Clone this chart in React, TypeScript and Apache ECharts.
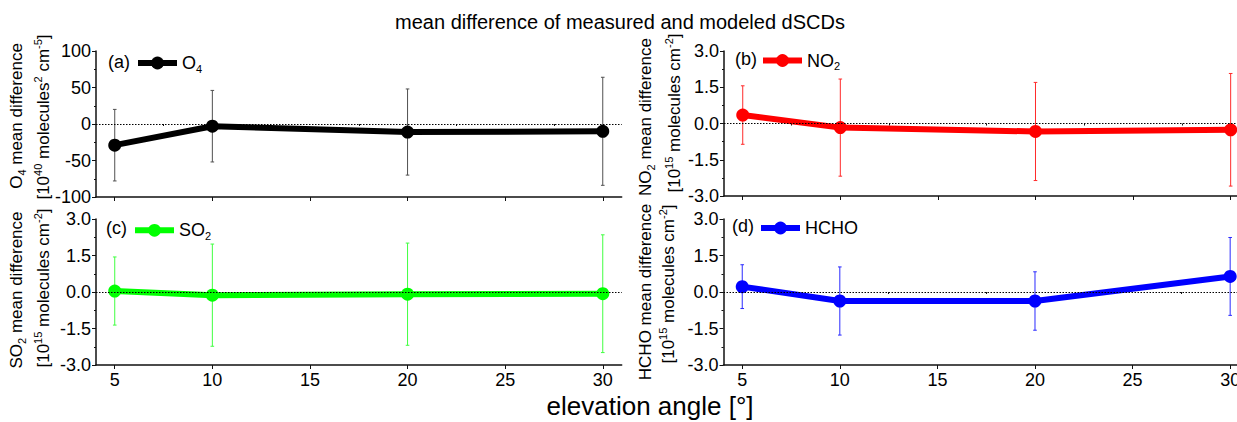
import React, { useEffect, useRef } from "react";
import * as echarts from "echarts";

const angles = [5, 10, 20, 30];
const o4Mean = [-29, -3, -11, -10];
const o4Err = [49, 49, 59, 74];
const no2Mean = [0.35, -0.17, -0.33, -0.26];
const no2Err = [1.21, 2.01, 2.03, 2.33];
const so2Mean = [0.04, -0.13, -0.09, -0.07];
const so2Err = [1.4, 2.1, 2.1, 2.42];
const hchoMean = [0.22, -0.37, -0.37, 0.64];
const hchoErr = [0.9, 1.4, 1.2, 1.6];
const xMajorTicks = [5, 10, 15, 20, 25, 30];
const xMinorTicks = [7.5, 12.5, 17.5, 22.5, 27.5];

const FONT = "'Liberation Sans', Arial, sans-serif";

const panels = [
  { name: "O4", label: "O{sub|4}", tag: "(a)", mean: o4Mean, err: o4Err, color: "#000000", errColor: "#505050", min: -100, max: 100, interval: 50, digits: 0,
    grid: { left: 96, top: 51, width: 525.7, height: 146 }, legend: { left: 135, cy: 60 }, tagPos: [108, 61.5], showX: false,
    t1: "O{sub|4} mean difference", t2: "[10{sup|40} molecules{sup|2} cm{sup|-5}]", t1Pos: [16, 116], t2Pos: [43, 117] },
  { name: "NO2", label: "NO{sub|2}", tag: "(b)", mean: no2Mean, err: no2Err, color: "#ff0000", errColor: "#ff2a2a", min: -3, max: 3, interval: 1.5, digits: 1,
    grid: { left: 724, top: 51, width: 525.6, height: 145 }, legend: { left: 760, cy: 57.5 }, tagPos: [735, 59], showX: false,
    t1: "NO{sub|2} mean difference", t2: "[10{sup|15} molecules cm{sup|-2}]", t1Pos: [645, 117], t2Pos: [674, 113] },
  { name: "SO2", label: "SO{sub|2}", tag: "(c)", mean: so2Mean, err: so2Err, color: "#00ff00", errColor: "#40ff40", min: -3, max: 3, interval: 1.5, digits: 1,
    grid: { left: 96, top: 219, width: 525.7, height: 146 }, legend: { left: 132, cy: 227.3 }, tagPos: [106, 228], showX: true,
    t1: "SO{sub|2} mean difference", t2: "[10{sup|15} molecules cm{sup|-2}]", t1Pos: [16, 290], t2Pos: [43, 288] },
  { name: "HCHO", label: "HCHO", tag: "(d)", mean: hchoMean, err: hchoErr, color: "#0000ff", errColor: "#2a2aff", min: -3, max: 3, interval: 1.5, digits: 1,
    grid: { left: 723.5, top: 219, width: 525.6, height: 146 }, legend: { left: 758, cy: 225 }, tagPos: [732, 225.5], showX: true,
    t1: "HCHO mean difference", t2: "[10{sup|15} molecules cm{sup|-2}]", t1Pos: [645, 292], t2Pos: [668, 284] },
];

const richText = {
  sub: { fontSize: 11, fontFamily: FONT, verticalAlign: "bottom", lineHeight: 12, fill: "#000", color: "#000" },
  sup: { fontSize: 11, fontFamily: FONT, verticalAlign: "top", lineHeight: 12, fill: "#000", color: "#000" },
};

export default function App() {
  const ref = useRef<HTMLDivElement>(null);
  useEffect(() => {
    if (!ref.current) return;
    const chart = echarts.init(ref.current, undefined, { renderer: "svg" });
    const xMin = 4.04;
    const xMax = 30.97;
    const xAxes: any[] = [];
    const yAxes: any[] = [];
    const series: any[] = [];
    const legends: any[] = [];
    const graphics: any[] = [];
    panels.forEach((p, i) => {
      xAxes.push({
        type: "value", gridIndex: i, min: xMin, max: xMax, position: "bottom",
        axisLine: { show: true, onZero: false, lineStyle: { color: "#111", width: 1.5 } },
        axisTick: { show: true, customValues: xMajorTicks, length: 4, lineStyle: { color: "#111", width: 1 } },
        axisLabel: { show: p.showX, customValues: xMajorTicks, fontSize: 18, color: "#000", fontFamily: FONT, margin: 6, hideOverlap: false },
        splitLine: { show: false },
      });
      xAxes.push({
        type: "value", gridIndex: i, min: xMin, max: xMax, position: "bottom",
        axisLine: { show: false },
        axisTick: { show: true, customValues: xMinorTicks, length: 2, lineStyle: { color: "#111", width: 1 } },
        axisLabel: { show: false },
        splitLine: { show: false },
      });
      yAxes.push({
        type: "value", gridIndex: i, min: p.min, max: p.max, interval: p.interval,
        axisLine: { show: true, onZero: false, lineStyle: { color: "#111", width: 1.5 } },
        axisTick: { show: true, length: 4, lineStyle: { color: "#111", width: 1 } },
        minorTick: { show: true, splitNumber: 2, length: 2, lineStyle: { color: "#111", width: 1 } },
        axisLabel: { fontSize: 18, color: "#000", fontFamily: FONT, margin: 5, formatter: (v: number) => v.toFixed(p.digits) },
        splitLine: { show: false },
        minorSplitLine: { show: false },
      });
      series.push({
        type: "custom", name: p.name + " error", xAxisIndex: 2 * i, yAxisIndex: i, z: 2,
        data: angles.map((a, k) => [a, p.mean[k] - p.err[k], p.mean[k] + p.err[k]]),
        encode: { x: 0, y: [1, 2] },
        renderItem: (params: any, api: any) => {
          const x = api.value(0);
          const lo = api.coord([x, api.value(1)]);
          const hi = api.coord([x, api.value(2)]);
          const w = 1.8;
          const st = { stroke: p.errColor, lineWidth: 1 };
          return {
            type: "group",
            children: [
              { type: "line", shape: { x1: hi[0], y1: hi[1], x2: lo[0], y2: lo[1] }, style: st },
              { type: "line", shape: { x1: hi[0] - w, y1: hi[1], x2: hi[0] + w, y2: hi[1] }, style: st },
              { type: "line", shape: { x1: lo[0] - w, y1: lo[1], x2: lo[0] + w, y2: lo[1] }, style: st },
            ],
          };
        },
      });
      series.push({
        type: "line", name: p.name, xAxisIndex: 2 * i, yAxisIndex: i, z: 3,
        data: angles.map((a, k) => [a, p.mean[k]]),
        symbol: "circle", symbolSize: 13,
        lineStyle: { width: 6, color: p.color },
        itemStyle: { color: p.color },
        markLine: {
          silent: true, symbol: ["none", "none"], label: { show: false },
          lineStyle: { type: [1.5, 1.5], color: "#000", width: 1 },
          data: [{ yAxis: 0 }],
        },
      });
      legends.push({
        left: p.legend.left, top: p.legend.cy - 8, padding: 0, data: [p.name],
        itemWidth: 39, itemHeight: 16, itemGap: 0,
        lineStyle: { width: 6 },
        formatter: () => p.label,
        textStyle: { fontSize: 18, lineHeight: 22, color: "#000", fontFamily: FONT, rich: richText },
      });
      graphics.push({
        type: "text", x: p.tagPos[0], y: p.tagPos[1],
        style: { text: p.tag, fontSize: 18, fontFamily: FONT, fill: "#000", align: "left", verticalAlign: "middle" },
      });
      graphics.push({
        type: "text", x: p.t1Pos[0], y: p.t1Pos[1], rotation: Math.PI / 2,
        style: { text: p.t1, fontSize: 17, lineHeight: 22, fontFamily: FONT, fill: "#000", align: "center", verticalAlign: "middle", rich: richText },
      });
      graphics.push({
        type: "text", x: p.t2Pos[0], y: p.t2Pos[1], rotation: Math.PI / 2,
        style: { text: p.t2, fontSize: 17, lineHeight: 22, fontFamily: FONT, fill: "#000", align: "center", verticalAlign: "middle", rich: richText },
      });
    });
    graphics.push({
      type: "text", x: 620, y: 22,
      style: { text: "mean difference of measured and modeled dSCDs", fontSize: 20, fontFamily: FONT, fill: "#000", align: "center", verticalAlign: "middle" },
    });
    graphics.push({
      type: "text", x: 650, y: 406,
      style: { text: "elevation angle [°]", fontSize: 26, fontFamily: FONT, fill: "#000", align: "center", verticalAlign: "middle" },
    });
    chart.setOption({
      animation: false,
      backgroundColor: "#ffffff",
      grid: panels.map((p) => ({ ...p.grid, containLabel: false, outerBoundsMode: "none" })),
      xAxis: xAxes,
      yAxis: yAxes,
      legend: legends,
      series,
      graphic: graphics,
    });
    return () => chart.dispose();
  }, []);
  return <div ref={ref} style={{ position: "absolute", left: 0, top: 0, width: 1237, height: 422 }} />;
}
